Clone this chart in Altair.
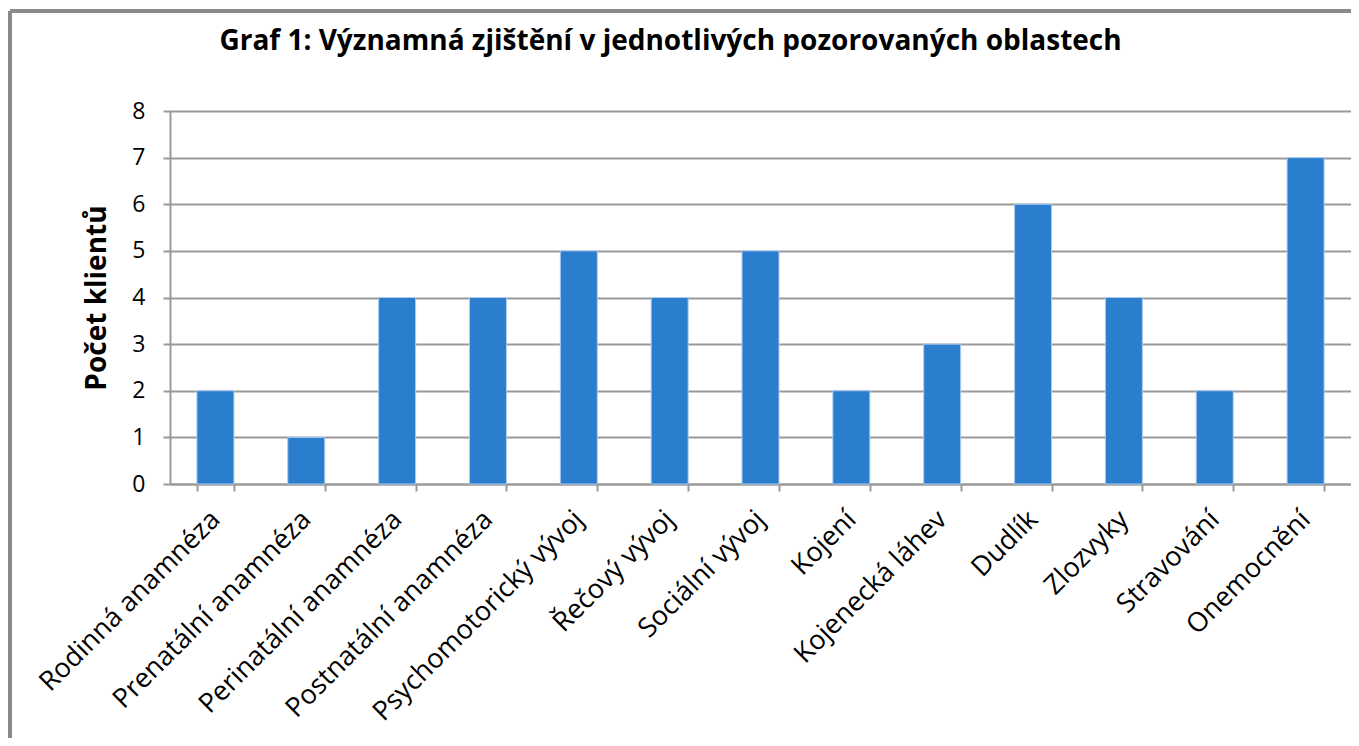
import altair as alt
import pandas as pd

categories = ["Rodinná anamnéza", "Prenatální anamnéza", "Perinatální anamnéza",
              "Postnatální anamnéza", "Psychomotorický vývoj", "Řečový vývoj",
              "Sociální vývoj", "Kojení", "Kojenecká láhev", "Dudlík",
              "Zlozvyky", "Stravování", "Onemocnění"]
values = [2, 1, 4, 4, 5, 4, 5, 2, 3, 6, 4, 2, 7]
y_ticks = [0, 1, 2, 3, 4, 5, 6, 7, 8]

df = pd.DataFrame({"oblast": categories, "pocet": values})

FONT = "Open Sans"
W, H = 1181, 373
GRAY = "#999999"

bars = alt.Chart(df).mark_bar(color="#2b7dce", stroke="#a9cbef", strokeWidth=1).encode(
    x=alt.X("oblast:N", sort=categories,
            scale=alt.Scale(paddingInner=0.593, paddingOuter=0.2965),
            axis=alt.Axis(title=None, labelAngle=-45, labelAlign="right", labelBaseline="middle",
                          labelFont=FONT, labelFontSize=27, labelColor="#000000",
                          labelPadding=24, tickBand="extent", tickSize=7, tickWidth=2,
                          tickColor=GRAY, domainColor=GRAY, domainWidth=2, grid=False,
                          labelOverlap=False, labelLimit=0)),
    y=alt.Y("pocet:Q", scale=alt.Scale(domain=[0, 8], nice=False),
            axis=alt.Axis(values=y_ticks, title="Počet klientů", titleFont=FONT,
                          titleFontSize=28, titleFontWeight="bold", titleColor="#000000",
                          titleX=-73, titleY=H / 2, titleBaseline="middle", titleAngle=-90,
                          labelFont=FONT, labelFontSize=23, labelColor="#000000",
                          labelPadding=18, tickSize=7, tickWidth=2, tickColor=GRAY,
                          domainColor=GRAY, domainWidth=2,
                          gridColor=GRAY, gridWidth=2)),
)

frame_left = alt.Chart(df).mark_rule(color="#8a8a8a", strokeWidth=3).encode(
    x=alt.value(-160), y=alt.value(-100), y2=alt.value(640))
frame_top = alt.Chart(df).mark_rule(color="#8a8a8a", strokeWidth=3).encode(
    x=alt.value(-160), x2=alt.value(1200), y=alt.value(-100))

chart = alt.layer(bars, frame_left, frame_top).properties(
    width=W, height=H,
    title=alt.TitleParams("Graf 1: Významná zjištění v jednotlivých pozorovaných oblastech",
                          font=FONT, fontSize=28, fontWeight="bold", color="#000000",
                          anchor="middle", dx=-90, offset=-46, frame="group"),
    autosize=alt.AutoSizeParams(type="none"),
    padding={"left": 162, "top": 103, "right": 0, "bottom": 254},
).configure_view(stroke=None).configure(background="#ffffff")

chart.save("out.html", embed_options={"renderer": "svg", "actions": False})
